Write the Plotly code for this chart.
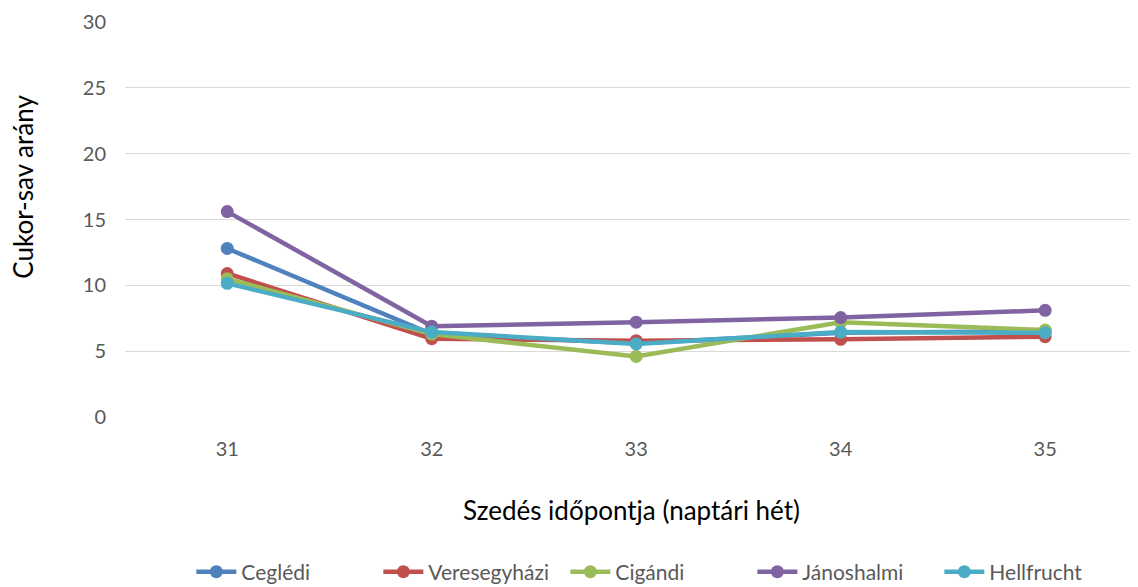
import plotly.graph_objects as go

weeks = [31, 32, 33, 34, 35]
series_names = ["Ceglédi", "Veresegyházi", "Cigándi", "Jánoshalmi", "Hellfrucht"]
cegledi = [12.8, 6.3, 5.6, 6.4, 6.5]
veresegyhazi = [10.9, 5.95, 5.8, 5.9, 6.1]
cigandi = [10.5, 6.3, 4.6, 7.2, 6.6]
janoshalmi = [15.6, 6.9, 7.2, 7.55, 8.1]
hellfrucht = [10.15, 6.45, 5.55, 6.45, 6.4]
colors = ["#4F81BD", "#C0504D", "#9BBB59", "#8064A2", "#4BACC6"]
y_ticks = [0, 5, 10, 15, 20, 25, 30]

font_family = "Lato, 'Open Sans', sans-serif"
# page body has an 8px margin, so the figure is 8px smaller and offset
H = 565.0  # plot paper height

fig = go.Figure()
for name, vals, col in zip(series_names,
                           [cegledi, veresegyhazi, cigandi, janoshalmi, hellfrucht],
                           colors):
    fig.add_trace(go.Scatter(
        x=weeks, y=vals, name=name, mode="lines+markers",
        line=dict(color=col, width=4.5),
        marker=dict(color=col, size=13),
    ))

fig.update_layout(
    width=1130, height=579,
    margin=dict(l=117, r=0, t=14, b=0, autoexpand=False),
    plot_bgcolor="white", paper_bgcolor="white",
    font=dict(family=font_family, color="#595959", size=20),
    showlegend=True,
    legend=dict(orientation="h", x=0.527, xanchor="center", y=(587 - 572) / H,
                yanchor="middle", font=dict(size=21, color="#595959"),
                itemwidth=40, entrywidth=132, tracegroupgap=0),
    xaxis=dict(range=[30.5, 35.454], tickvals=weeks, ticktext=[str(w) for w in weeks],
               showgrid=False, zeroline=False, showline=False, ticks="",
               automargin=False, ticklabelstandoff=18,
               tickfont=dict(size=20, color="#595959")),
    yaxis=dict(range=[0, 30], domain=[170 / H, 1], tickvals=y_ticks, showgrid=True,
               gridcolor="#D9D9D9", gridwidth=1.3, zeroline=False, showline=False,
               ticks="", automargin=False, ticklabelstandoff=18,
               tickfont=dict(size=20, color="#595959")),
    annotations=[
        dict(text="Cukor-sav arány", xref="paper", yref="paper", x=-0.101,
             y=(587 - 187) / H, xanchor="center", yanchor="middle", textangle=-90,
             showarrow=False, font=dict(size=26, color="#000000")),
        dict(text="Szedés időpontja (naptári hét)", xref="paper", yref="paper",
             x=0.5, y=(587 - 510) / H, xanchor="center", yanchor="middle",
             showarrow=False, font=dict(size=26, color="#000000")),
    ],
)

fig.write_html("out.html")
